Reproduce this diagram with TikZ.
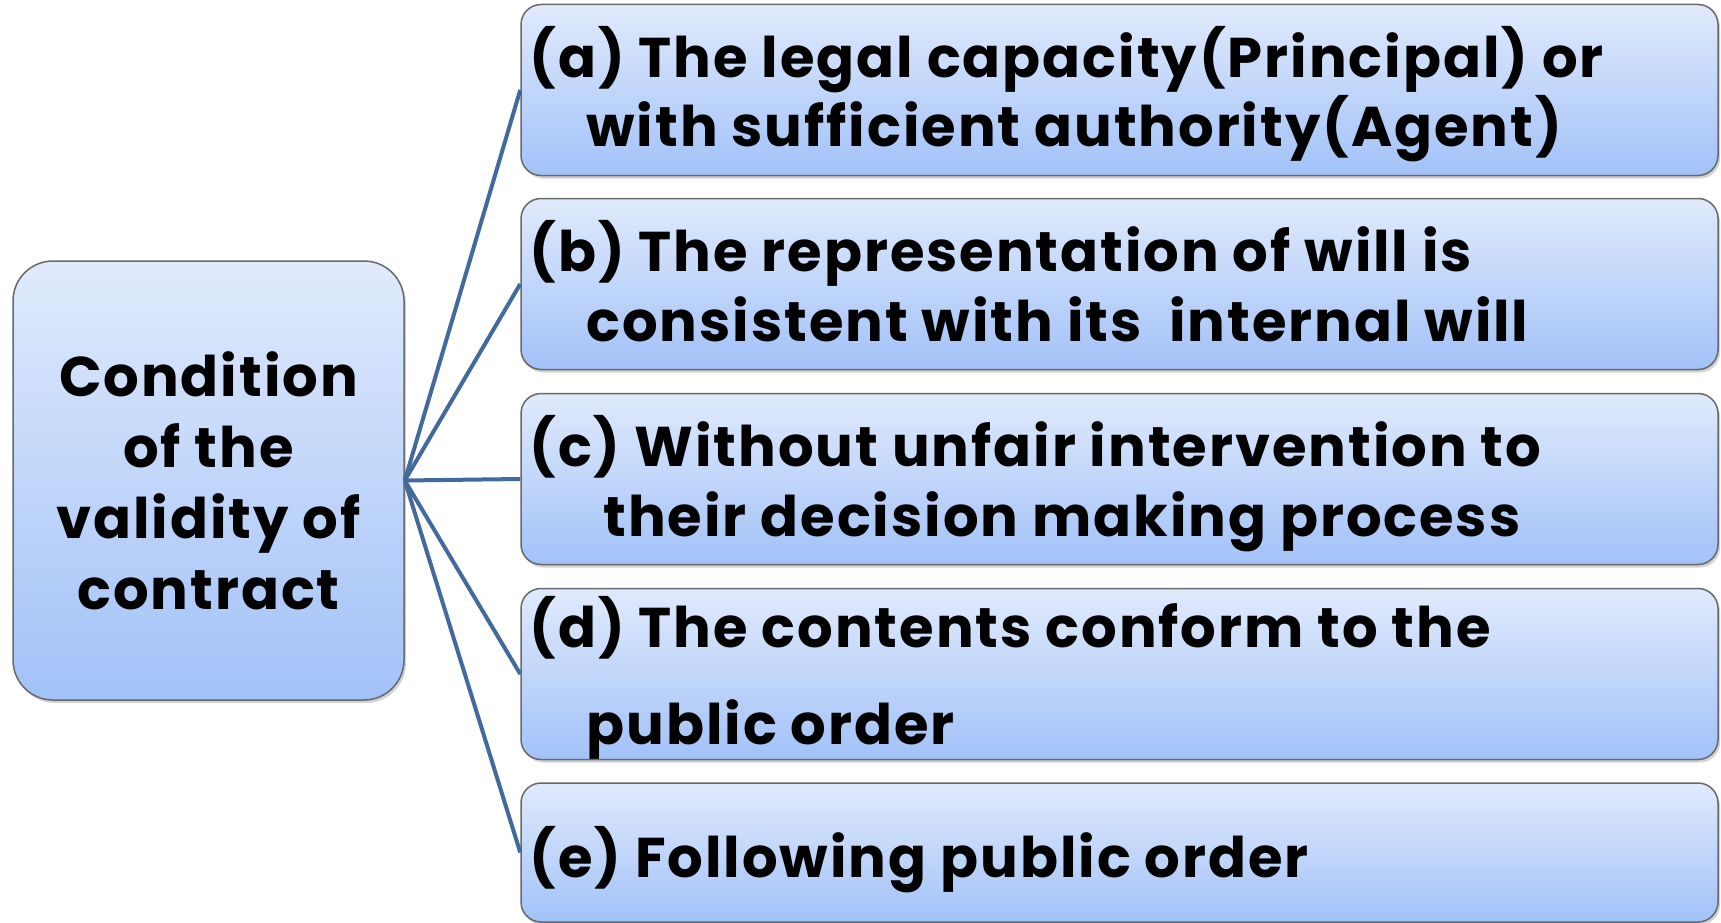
\documentclass[tikz,border=0pt]{standalone}
\usepackage{fontspec}
\setmainfont{Poppins}[LetterSpace=3.5]
\usetikzlibrary{calc, positioning, shadows}
\definecolor{boxtop}{RGB}{224,234,252}
\definecolor{boxbot}{RGB}{162,194,248}
\definecolor{boxedge}{RGB}{105,105,105}
\definecolor{linkblue}{RGB}{66,106,156}
\newcommand{\bigfont}{\fontsize{56}{71}\selectfont\bfseries}
\tikzset{
  cbox/.style    = {draw=boxedge, line width=1.5pt, top color=boxtop, bottom color=boxbot,
                    drop shadow={shadow xshift=2pt, shadow yshift=-3pt, opacity=.35}},
  condbox/.style = {cbox, rounded corners=40pt, minimum width=391pt, minimum height=439pt,
                    align=center, font=\bigfont},             % the left block
  itembox/.style = {cbox, rounded corners=20pt, minimum width=1197pt, minimum height=171pt,
                    inner sep=0pt},                          % one condition
  itemtxt/.style = {anchor=base west, inner sep=0pt, font=\bigfont},
  link/.style    = {draw=linkblue, line width=4pt},
}

\begin{document}
\begin{tikzpicture}[x=1pt, y=-1pt]
  \useasboundingbox (0,0) rectangle (1721,923);
  \node[condbox] (cond) at (208.5,480.5) {Condition\\of the\\validity of\\contract};
  \node[itembox] (a) at (1119.5,90) {};
  \node[itembox] (b) at (1119.5,284) {};
  \node[itembox] (c) at (1119.5,479) {};
  \node[itembox] (d) at (1119.5,674) {};
  \node[itembox, minimum height=139pt] (e) at (1119.5,852.5) {};
  \foreach \k in {a,b,c,d,e}
    \draw[link] (cond.east) -- (\k.west);
  % texts of the five conditions
  \node[itemtxt] (a1) at ($(a.north west)+(9,74)$) {(a) The legal capacity(Principal) or};
  \node[itemtxt] (a2) at ($(a1.base west)+(57,69)$) {with sufficient authority(Agent)};
  \node[itemtxt] (b1) at ($(b.north west)+(9,74)$) {(b) The representation of will is};
  \node[itemtxt] (b2) at ($(b1.base west)+(57,70)$) {consistent with its\ \ internal will};
  \node[itemtxt] (c1) at ($(c.north west)+(9,74)$) {(c) Without unfair intervention to};
  \node[itemtxt] (c2) at ($(c1.base west)+(74,70)$) {their decision making process};
  \node[itemtxt] (d1) at ($(d.north west)+(9,60)$) {(d) The contents conform to the};
  \node[itemtxt] (d2) at ($(d1.base west)+(57,97)$) {public order};
  \node[itemtxt] (e1) at ($(e.north west)+(9,95)$) {(e) Following public order};
\end{tikzpicture}
\end{document}
